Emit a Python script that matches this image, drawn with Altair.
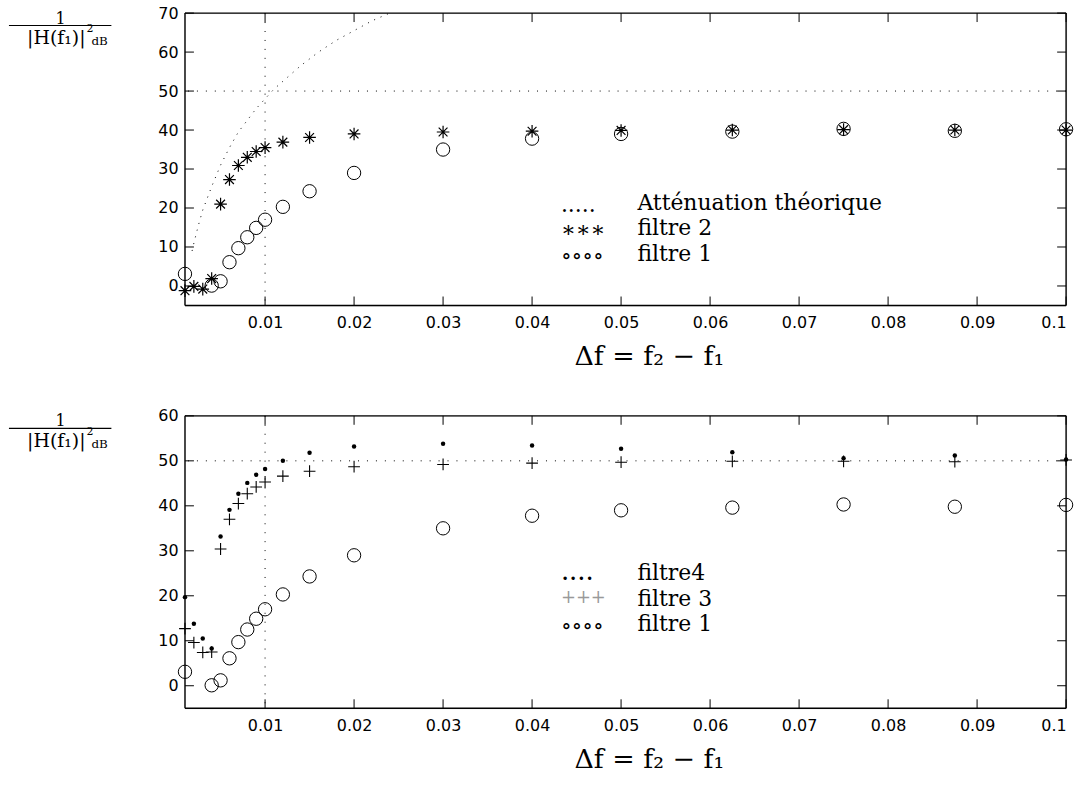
import altair as alt
import pandas as pd

# ---------------- data ----------------
x_vals = [0.001, 0.002, 0.003, 0.004, 0.005, 0.006, 0.007, 0.008, 0.009, 0.010,
          0.012, 0.015, 0.020, 0.030, 0.040, 0.050, 0.0625, 0.075, 0.0875, 0.100]

filtre1 = [3.1, None, None, 0.1, 1.2, 6.1, 9.7, 12.5, 14.9, 17.0,
           20.3, 24.3, 29.0, 35.0, 37.8, 39.0, 39.6, 40.3, 39.8, 40.2]
filtre2 = [-1.2, -0.1, -0.8, 1.9, 21.0, 27.3, 30.9, 33.0, 34.5, 35.5,
           36.9, 38.1, 39.0, 39.5, 39.7, 39.9, 40.0, 40.1, 40.0, 40.0]
filtre3 = [12.7, 9.6, 7.4, 7.5, 30.4, 37.0, 40.5, 42.7, 44.2, 45.3,
           46.6, 47.7, 48.7, 49.2, 49.5, 49.7, 49.9, 49.9, 49.8, 50.2]
filtre4 = [19.7, 13.8, 10.5, 8.3, 33.2, 39.1, 42.7, 45.1, 46.9, 48.2,
           50.0, 51.8, 53.2, 53.8, 53.4, 52.7, 51.9, 50.6, 51.2, 50.3]

theory_x = [0.0018, 0.002, 0.0025, 0.003, 0.0035, 0.004, 0.005, 0.006, 0.007, 0.008,
            0.009, 0.010, 0.011, 0.012, 0.014, 0.016, 0.018, 0.020, 0.022, 0.024]
theory_y = [9.0, 11.0, 15.5, 19.5, 22.5, 25.5, 31.0, 35.5, 39.5, 42.5,
            45.5, 48.0, 50.5, 52.5, 56.5, 60.0, 63.0, 65.5, 68.0, 70.0]

x_ticks = [0.01, 0.02, 0.03, 0.04, 0.05, 0.06, 0.07, 0.08, 0.09, 0.1]
y_ticks_top = [0, 10, 20, 30, 40, 50, 60, 70]
y_ticks_bottom = [0, 10, 20, 30, 40, 50, 60]
ref_level = [50]
ref_freq = [0.01]

legend_top = ["Atténuation théorique", "filtre 2", "filtre 1"]
legend_top_sym = [".....", "∗∗∗", "∘∘∘∘"]
legend_bottom = ["filtre4", "filtre 3", "filtre 1"]
legend_bottom_sym = ["....", "+++", "∘∘∘∘"]
x_title = "Δf = f₂ − f₁"

# ---------------- layout constants ----------------
W, H = 886, 294
SERIF = "DejaVu Serif"
SANS = "DejaVu Sans"
STAR = "M-1,0L1,0M0,-1L0,1M-0.7,-0.7L0.7,0.7M-0.7,0.7L0.7,-0.7"
PLUS = "M-1,0L1,0M0,-1L0,1"
DOT = [1, 8]


def series_df(ys):
    return pd.DataFrame({"x": x_vals, "y": ys}).dropna()


def panel(ymax, yticks, series, theory, legend_labels, legend_syms, legend_colors,
          legend_sym_sizes, legend_y, legend_sym_dy):
    xs = alt.Scale(domain=[0.001, 0.1], nice=False, zero=False)
    ys = alt.Scale(domain=[-5, ymax], nice=False, zero=False)
    xax = alt.Axis(values=x_ticks, format=".2~f", title=None, ticks=False, domain=False,
                   grid=False, labelFont=SANS, labelFontSize=16, labelColor="black",
                   labelPadding=9)
    yax = alt.Axis(values=yticks, title=None, ticks=False, domain=False, grid=False,
                   labelFont=SANS, labelFontSize=16, labelColor="black", labelPadding=7)
    X = alt.X("x:Q", scale=xs, axis=xax)
    Y = alt.Y("y:Q", scale=ys, axis=yax)

    layers = []
    # reference dotted lines
    layers.append(alt.Chart(pd.DataFrame({"y": ref_level})).mark_rule(
        color="black", strokeDash=DOT, strokeWidth=1).encode(y=alt.Y("y:Q", scale=ys, axis=yax)))
    layers.append(alt.Chart(pd.DataFrame({"x": ref_freq})).mark_rule(
        color="black", strokeDash=DOT, strokeWidth=1).encode(x=alt.X("x:Q", scale=xs, axis=xax)))
    if theory:
        layers.append(alt.Chart(pd.DataFrame({"x": theory_x, "y": theory_y})).mark_line(
            color="black", strokeDash=[1, 6], strokeWidth=1).encode(x=X, y=Y))
    for kind, ys_ in series:
        df = series_df(ys_)
        if kind == "circle":
            m = alt.Chart(df).mark_point(shape="circle", filled=False, size=180,
                                         color="black", strokeWidth=1, opacity=1)
        elif kind == "star":
            m = alt.Chart(df).mark_point(shape=STAR, filled=False, size=160,
                                         color="black", strokeWidth=1.2, opacity=1)
        elif kind == "plus":
            m = alt.Chart(df).mark_point(shape=PLUS, filled=False, size=140,
                                         color="black", strokeWidth=1.1, opacity=1)
        else:
            m = alt.Chart(df).mark_point(shape="circle", filled=True, size=20,
                                         color="black", opacity=1)
        layers.append(m.encode(x=X, y=Y))

    # box frame
    one = pd.DataFrame({"k": [0]})
    for enc in [dict(x=alt.value(0), x2=alt.value(W), y=alt.value(0)),
                dict(x=alt.value(0), x2=alt.value(W), y=alt.value(H)),
                dict(x=alt.value(0), y=alt.value(0), y2=alt.value(H)),
                dict(x=alt.value(W), y=alt.value(0), y2=alt.value(H))]:
        layers.append(alt.Chart(one).mark_rule(color="black", strokeWidth=1.4).encode(**enc))

    # inward ticks on all four sides
    xt = pd.DataFrame({"x": x_ticks})
    yt = pd.DataFrame({"y": yticks})
    layers.append(alt.Chart(xt).mark_rule(color="black", strokeWidth=1).encode(
        x=alt.X("x:Q", scale=xs, axis=xax), y=alt.value(H), y2=alt.value(H - 9)))
    layers.append(alt.Chart(xt).mark_rule(color="black", strokeWidth=1).encode(
        x=alt.X("x:Q", scale=xs, axis=xax), y=alt.value(0), y2=alt.value(9)))
    layers.append(alt.Chart(yt).mark_rule(color="black", strokeWidth=1).encode(
        y=alt.Y("y:Q", scale=ys, axis=yax), x=alt.value(0), x2=alt.value(9)))
    layers.append(alt.Chart(yt).mark_rule(color="black", strokeWidth=1).encode(
        y=alt.Y("y:Q", scale=ys, axis=yax), x=alt.value(W), x2=alt.value(W - 9)))

    # legend (text, as in the original)
    for i, (lab, sym) in enumerate(zip(legend_labels, legend_syms)):
        yb = legend_y + i * 25.7
        layers.append(alt.Chart(one).mark_text(
            align="left", baseline="alphabetic", font=SERIF, fontSize=22, color="black"
        ).encode(x=alt.value(455), y=alt.value(yb), text=alt.value(lab)))
        layers.append(alt.Chart(one).mark_text(
            align="left", baseline="alphabetic", font=SERIF, fontSize=legend_sym_sizes[i],
            color=legend_colors[i]
        ).encode(x=alt.value(378), y=alt.value(yb + legend_sym_dy[i]), text=alt.value(sym)))

    # x title
    layers.append(alt.Chart(one).mark_text(
        align="center", baseline="alphabetic", font=SERIF, fontSize=27, color="black"
    ).encode(x=alt.value(467), y=alt.value(354), text=alt.value(x_title)))

    # y title: 1 / |H(f1)|^2 dB
    layers.append(alt.Chart(one).mark_text(
        align="center", baseline="alphabetic", font=SERIF, fontSize=16, color="black"
    ).encode(x=alt.value(-125), y=alt.value(10.5), text=alt.value("1")))
    layers.append(alt.Chart(one).mark_rule(color="black", strokeWidth=1.2).encode(
        x=alt.value(-177), x2=alt.value(-74), y=alt.value(12.5)))
    layers.append(alt.Chart(one).mark_text(
        align="right", baseline="alphabetic", font=SERIF, fontSize=19, color="black"
    ).encode(x=alt.value(-100), y=alt.value(31.5), text=alt.value("|H(f₁)|")))
    layers.append(alt.Chart(one).mark_text(
        align="left", baseline="alphabetic", font=SERIF, fontSize=11, color="black"
    ).encode(x=alt.value(-99), y=alt.value(19.5), text=alt.value("2")))
    layers.append(alt.Chart(one).mark_text(
        align="left", baseline="alphabetic", font=SERIF, fontSize=12, color="black"
    ).encode(x=alt.value(-94), y=alt.value(32), text=alt.value("dB")))

    return alt.layer(*layers).properties(width=W, height=H)


top = panel(70, y_ticks_top,
            [("circle", filtre1), ("star", filtre2)], True,
            legend_top, legend_top_sym, ["black", "black", "black"],
            [22, 22, 22], 197.6, [2, 2, 2])
bottom = panel(60, y_ticks_bottom,
               [("circle", filtre1), ("plus", filtre3), ("dot", filtre4)], False,
               legend_bottom, legend_bottom_sym, ["black", "#999999", "black"],
               [26, 18, 22], 165, [0, -3, 2])

chart = alt.vconcat(top, bottom, spacing=36).properties(
    padding={"left": 7, "top": 2, "right": 5, "bottom": 5}
).configure_view(stroke="black", strokeWidth=1).configure(background="white")

chart.save("out.html", embed_options={"renderer": "svg", "actions": False})
